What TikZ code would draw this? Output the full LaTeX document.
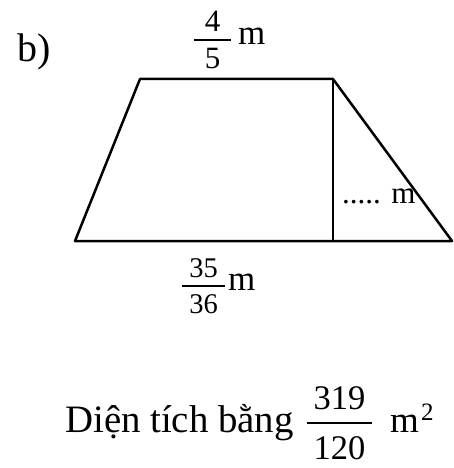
\documentclass[tikz,border=0pt]{standalone}
\usepackage{fontspec}
\setmainfont{Liberation Serif}
\usepackage{tikz}
\usetikzlibrary{positioning}

\setlength{\arrayrulewidth}{1.9pt}
\renewcommand{\arraystretch}{0}
% #1 side pad, #2 gap to bar, #3 numerator, #4 denominator
\newcommand{\numfrac}[4]{\begin{tabular}{@{\hspace{#1}}c@{\hspace{#1}}}\rule[-#2]{0pt}{0pt}#3\\\hline\rule{0pt}{\dimexpr\fontcharht\font`\0+#2\relax}#4\end{tabular}}

\tikzset{
    edge/.style={line width=2.5pt, line join=round},
    lbl/.style={inner sep=0pt, font=\fontsize{37}{42}\selectfont}
}

\begin{document}
\begin{tikzpicture}[x=1pt, y=-1pt]
            \useasboundingbox (0,0) rectangle (453,468);
            \coordinate (A) at (75,241);
            \coordinate (B) at (452,241);
            \coordinate (C) at (333,79);
            \coordinate (D) at (140,79);
            \coordinate (H) at (333,241);
            \draw[edge] (A)--(B)--(C)--(D)--cycle;
            \draw[edge] (C)--(H);
            \node[lbl, anchor=base west, font=\fontsize{40}{44}\selectfont] (part) at (17,62) {b)};
            % top side
            \node[lbl, font=\fontsize{31}{34}\selectfont] (topfrac) at (212.5,40) {\numfrac{11pt}{7pt}{4}{5}};
            \node[lbl, anchor=base west, font=\fontsize{35}{40}\selectfont] (topunit) at (238,45) {m};
            % bottom side
            \node[lbl, font=\fontsize{28.5}{32}\selectfont] (botfrac) at (203.5,286) {\numfrac{7.5pt}{7.5pt}{35}{36}};
            \node[lbl, anchor=base west, font=\fontsize{35}{40}\selectfont] (botunit) at (228,290) {m};
            % height
            \node[lbl, anchor=base west, font=\fontsize{31}{34}\selectfont] (height) at (342,203) {..... m};
            % area
            \node[lbl, anchor=base west, font=\fontsize{38.8}{44}\selectfont] (area) at (65,432) {Diện tích bằng};
            \node[lbl, font=\fontsize{34.5}{38}\selectfont] (areafrac) at (339.5,423) {\numfrac{7pt}{12.5pt}{319}{120}};
            \node[lbl, anchor=base west] (areaunit) at (390,432) {m};
            \node[lbl, anchor=base west, font=\fontsize{25}{28}\selectfont] (areapow) at (421,420) {2};
        \end{tikzpicture}
\end{document}
